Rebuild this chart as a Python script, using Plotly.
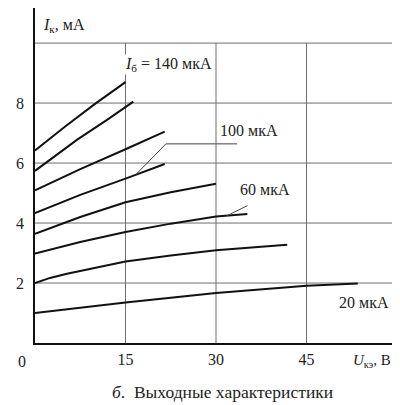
import plotly.graph_objects as go

# output characteristics: I_k (mA) vs U_ke (V), one curve per base current
u_a = [0, 5, 10, 15]
i_a = [6.42, 7.22, 7.98, 8.70]
u_b = [0, 7, 12, 16.3]
i_b = [5.74, 6.78, 7.45, 8.05]
u_c = [0, 7.5, 15, 21.5]
i_c = [5.09, 5.80, 6.46, 7.05]
u_d = [0, 7.5, 15, 21.5]
i_d = [4.33, 4.94, 5.48, 5.97]
u_e = [0, 7.5, 15, 22.5, 30]
i_e = [3.64, 4.20, 4.69, 5.03, 5.31]
u_f = [0, 7.5, 15, 22.5, 30, 35.2]
i_f = [2.98, 3.37, 3.70, 3.98, 4.22, 4.30]
u_g = [0, 2.5, 5.3, 10, 15, 22.5, 30, 41.8]
i_g = [2.00, 2.17, 2.31, 2.52, 2.72, 2.92, 3.09, 3.28]
u_h = [0, 15, 30, 45, 53.5]
i_h = [1.00, 1.35, 1.67, 1.91, 1.98]

curves = [(u_a, i_a), (u_b, i_b), (u_c, i_c), (u_d, i_d),
          (u_e, i_e), (u_f, i_f), (u_g, i_g), (u_h, i_h)]

x_ticks = [15, 30, 45]
y_ticks = [2, 4, 6, 8]
x_grid = [15, 30, 45, 60]
y_grid = [2, 4, 6, 8, 10]

FONT = "Liberation Serif"
GRID = "#6e6e6e"

fig = go.Figure()
for u, i in curves:
    fig.add_trace(go.Scatter(x=u, y=i, mode="lines",
                             line=dict(color="#111111", width=2),
                             showlegend=False, hoverinfo="skip"))

# grid as shapes so the vertical lines stop at 10 mA
shapes = []
for yv in y_grid:
    shapes.append(dict(type="line", x0=0, x1=60, y0=yv, y1=yv,
                       line=dict(color=GRID, width=1), layer="below"))
for xv in x_grid:
    shapes.append(dict(type="line", x0=xv, x1=xv, y0=0, y1=10,
                       line=dict(color=GRID, width=1), layer="below"))

# leader lines for the 100 and 60 uA labels
shapes.append(dict(type="path", path="M 16.7 5.61 L 21.7 6.64 L 33.5 6.64",
                   line=dict(color="#444444", width=1)))
shapes.append(dict(type="line", x0=31.8, y0=4.24, x1=35.2, y1=4.58,
                   line=dict(color="#444444", width=1)))

txt = dict(family=FONT, size=16, color="#222222")
inside = [
    dict(x=1.0, y=10.58, text="<i>I</i><sub>к</sub>, мА", xanchor="left"),
    dict(x=14.7, y=9.27, text="<i>I</i><sub>б</sub> = 140 мкА", xanchor="left",
         bgcolor="white", borderpad=0),
    dict(x=30.3, y=7.07, text="100 мкА", xanchor="left"),
    dict(x=33.7, y=5.11, text="60 мкА", xanchor="left"),
    dict(x=50.1, y=1.34, text="20 мкА", xanchor="left"),
]
for a in inside:
    a.update(xref="x", yref="y", showarrow=False, font=txt)
outside = [
    dict(x=-0.036, y=-0.054, text="0", xanchor="center", font=txt),
    dict(x=0.872, y=-0.054, text="<i>U</i><sub>кэ</sub>, В", xanchor="left",
         font=dict(family=FONT, size=15, color="#222222")),
    dict(x=0.519, y=-0.146, text="<i>б</i>.\u00a0\u00a0Выходные характеристики",
         xanchor="center", font=dict(family=FONT, size=17.5, color="#222222")),
]
for a in outside:
    a.update(xref="paper", yref="paper", yanchor="middle", showarrow=False)

# page body adds ~8px offset, so the figure is a bit smaller than 400x405
fig.update_layout(
    width=392, height=397,
    margin=dict(l=27, r=3, t=0, b=62),
    plot_bgcolor="white", paper_bgcolor="white",
    shapes=shapes, annotations=inside + outside,
    xaxis=dict(range=[0, 60], showgrid=False, zeroline=False, automargin=False,
               showline=True, linecolor="#111111", linewidth=1.5,
               tickvals=x_ticks, ticks="", ticklabelstandoff=1,
               tickfont=txt),
    yaxis=dict(range=[0, 11.17], showgrid=False, zeroline=False, automargin=False,
               showline=True, linecolor="#111111", linewidth=1.5,
               tickvals=y_ticks, ticks="", ticklabelstandoff=6,
               tickfont=txt),
)

fig.write_html("out.html")
